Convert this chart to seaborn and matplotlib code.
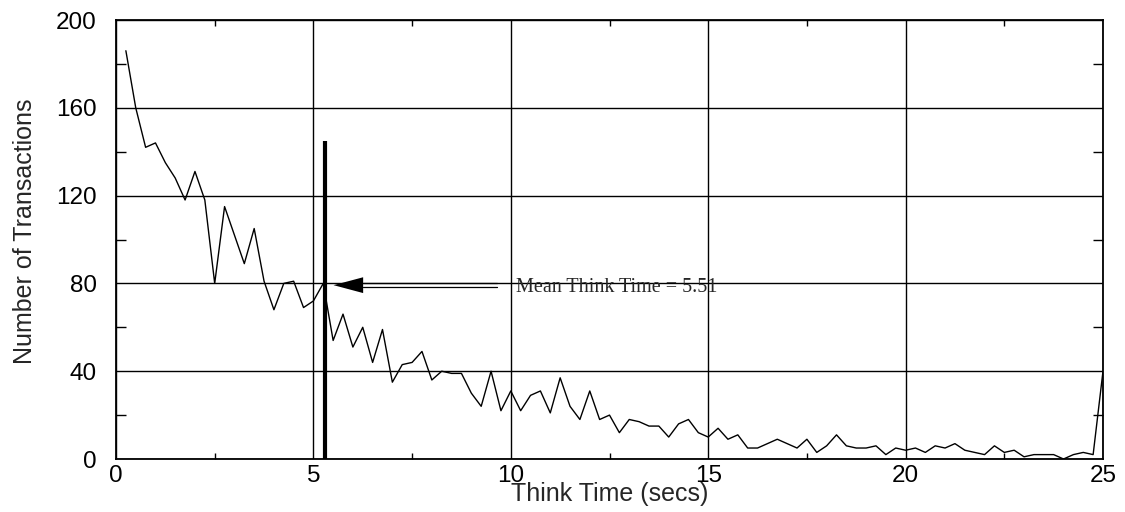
import matplotlib
matplotlib.use("Agg")
import matplotlib.pyplot as plt
from matplotlib.ticker import MultipleLocator
import pandas as pd
import seaborn as sns

# Think-time histogram: bin upper edges (secs) and transaction counts per bin
think_time = [
    0.25, 0.5, 0.75, 1.0, 1.25, 1.5, 1.75, 2.0, 2.25, 2.5,
    2.75, 3.0, 3.25, 3.5, 3.75, 4.0, 4.25, 4.5, 4.75, 5.0,
    5.25, 5.5, 5.75, 6.0, 6.25, 6.5, 6.75, 7.0, 7.25, 7.5,
    7.75, 8.0, 8.25, 8.5, 8.75, 9.0, 9.25, 9.5, 9.75, 10.0,
    10.25, 10.5, 10.75, 11.0, 11.25, 11.5, 11.75, 12.0, 12.25, 12.5,
    12.75, 13.0, 13.25, 13.5, 13.75, 14.0, 14.25, 14.5, 14.75, 15.0,
    15.25, 15.5, 15.75, 16.0, 16.25, 16.5, 16.75, 17.0, 17.25, 17.5,
    17.75, 18.0, 18.25, 18.5, 18.75, 19.0, 19.25, 19.5, 19.75, 20.0,
    20.25, 20.5, 20.75, 21.0, 21.25, 21.5, 21.75, 22.0, 22.25, 22.5,
    22.75, 23.0, 23.25, 23.5, 23.75, 24.0, 24.25, 24.5, 24.75, 25.0,
]
transactions = [
    186, 160, 142, 144, 135, 128, 118, 131, 118, 80,
    115, 102, 89, 105, 81, 68, 80, 81, 69, 72,
    80, 54, 66, 51, 60, 44, 59, 35, 43, 44,
    49, 36, 40, 39, 39, 30, 24, 40, 22, 31,
    22, 29, 31, 21, 37, 24, 18, 31, 18, 20,
    12, 18, 17, 15, 15, 10, 16, 18, 12, 10,
    14, 9, 11, 5, 5, 7, 9, 7, 5, 9,
    3, 6, 11, 6, 5, 5, 6, 2, 5, 4,
    5, 3, 6, 5, 7, 4, 3, 2, 6, 3,
    4, 1, 2, 2, 2, 0, 2, 3, 2, 40,
]

mean_think_time = 5.51
mean_bar_x = 5.3
mean_bar_height = 145
arrow_level = 79.2

x_ticks = [0, 5, 10, 15, 20, 25]
y_ticks = [0, 40, 80, 120, 160, 200]

df = pd.DataFrame({"Think Time (secs)": think_time,
                   "Number of Transactions": transactions})

sns.set_style("ticks")
plt.rcParams["font.family"] = ["Liberation Sans", "DejaVu Sans"]

fig = plt.figure(figsize=(11.25, 5.12), dpi=100)
W, H = 1125, 512
ax = fig.add_axes([116 / W, 1 - 459 / H, 987 / W, 439 / H])

ax.grid(True, which="major", color="black", linewidth=1.0)

sns.lineplot(data=df, x="Think Time (secs)", y="Number of Transactions",
             color="black", linewidth=1.0, ax=ax, zorder=3)

# Thick marker bar for the mean
ax.vlines(mean_bar_x, 0, mean_bar_height, color="black", linewidth=3.0, zorder=4)

# Arrow pointing at the mean: filled head with a hollow (double-line) shaft
head_len = 0.75
head_half = 3.6
shaft_half = 0.8
shaft_end = 9.65
base_x = mean_think_time + head_len
ax.fill([mean_think_time, base_x, base_x],
        [arrow_level, arrow_level + head_half, arrow_level - head_half],
        color="black", zorder=5, linewidth=0)
for dy in (shaft_half, -shaft_half):
    ax.plot([base_x, shaft_end], [arrow_level + dy, arrow_level + dy],
            color="black", linewidth=0.9, zorder=5)

ax.text(10.14, 76.2, f"Mean Think Time = {mean_think_time}",
        family=["Liberation Serif", "DejaVu Serif"], fontsize=14.5,
        ha="left", va="baseline", zorder=6)

ax.set_xlim(x_ticks[0], x_ticks[-1])
ax.set_ylim(y_ticks[0], y_ticks[-1])
ax.set_xticks(x_ticks)
ax.set_yticks(y_ticks)
ax.xaxis.set_minor_locator(MultipleLocator(2.5))
ax.yaxis.set_minor_locator(MultipleLocator(20))

ax.tick_params(which="major", length=0, labelsize=17.5, colors="black")
ax.tick_params(axis="x", which="major", pad=4)
ax.tick_params(axis="y", which="major", pad=14)
ax.tick_params(which="minor", direction="in", top=True, right=True,
               bottom=True, left=True, color="black", width=1.0)
ax.tick_params(axis="x", which="minor", length=4)
ax.tick_params(axis="y", which="minor", length=7)

for s in ax.spines.values():
    s.set_visible(True)
    s.set_color("black")
    s.set_linewidth(1.3)

ax.set_xlabel("Think Time (secs)", fontsize=18)
ax.set_ylabel("Number of Transactions", fontsize=18)
ax.xaxis.set_label_coords(0.5, -0.052)
ax.yaxis.set_label_coords(-0.080, 0.518)

fig.savefig("out.png", dpi=100, facecolor="white")
